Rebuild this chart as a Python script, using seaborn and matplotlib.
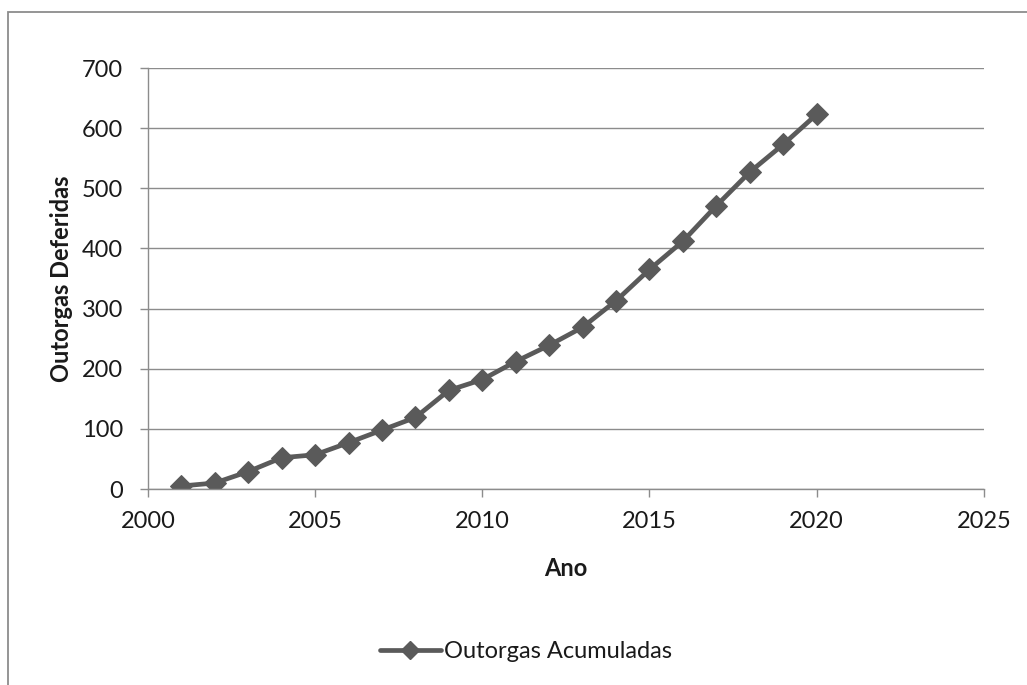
import matplotlib
matplotlib.use("Agg")
import matplotlib.pyplot as plt
from matplotlib.patches import Rectangle
from matplotlib.lines import Line2D
import seaborn as sns
import pandas as pd

anos = list(range(2001, 2021))
outorgas_acumuladas = [5, 10, 29, 52, 57, 77, 98, 119, 164, 182,
                       212, 239, 269, 313, 365, 412, 471, 527, 573, 623]
x_ticks = [2000, 2005, 2010, 2015, 2020, 2025]
y_ticks = [0, 100, 200, 300, 400, 500, 600, 700]

df = pd.DataFrame({"Ano": anos, "Outorgas Acumuladas": outorgas_acumuladas})

sns.set_theme(style="white")
plt.rcParams["font.family"] = ["Lato", "DejaVu Sans"]

fig = plt.figure(figsize=(10.27, 6.85), dpi=100)
ax = fig.add_axes([0.144, 0.2861, 0.814, 0.6146])

line_color = "#5a5a5a"
text_color = "#1a1a1a"
sns.lineplot(data=df, x="Ano", y="Outorgas Acumuladas", ax=ax,
             color=line_color, linewidth=3.4, marker="D", markersize=11,
             markeredgecolor=line_color, legend=False)

ax.set_xlim(2000, 2025)
ax.set_ylim(0, 700)
ax.set_xticks(x_ticks)
ax.set_yticks(y_ticks)
ax.yaxis.grid(True, color="#8c8c8c", linewidth=1.0)
ax.xaxis.grid(False)
ax.set_axisbelow(True)

for side in ("top", "right"):
    ax.spines[side].set_visible(False)
for side in ("left", "bottom"):
    ax.spines[side].set_color("#8c8c8c")
    ax.spines[side].set_linewidth(1.0)

ax.tick_params(axis="both", which="major", direction="out", length=6,
               width=1.0, color="#8c8c8c", labelsize=17, labelcolor=text_color,
               bottom=True, left=True)
ax.tick_params(axis="x", pad=10)
ax.tick_params(axis="y", pad=12)

ax.set_xlabel("Ano", fontsize=17, fontweight="bold", color=text_color, labelpad=18)
ax.set_ylabel("Outorgas Deferidas", fontsize=17, fontweight="bold", color=text_color, labelpad=6)

handle = Line2D([], [], color=line_color, linewidth=3.4, marker="D",
                markersize=9, markeredgecolor=line_color)
leg = fig.legend([handle], ["Outorgas Acumuladas"], loc="center",
                 bbox_to_anchor=(526 / 1027, 1 - 652 / 685),
                 frameon=False, fontsize=17, handlelength=2.6, handletextpad=0.15,
                 labelcolor=text_color)

# chart-area border (left and top edges fall inside the canvas)
fig.patches.append(Rectangle((8 / 1027, -0.05), 1.1, 1 - 12 / 685 + 0.05,
                             transform=fig.transFigure, fill=False,
                             edgecolor="#8c8c8c", linewidth=1.3))

fig.savefig("out.png", dpi=100)
